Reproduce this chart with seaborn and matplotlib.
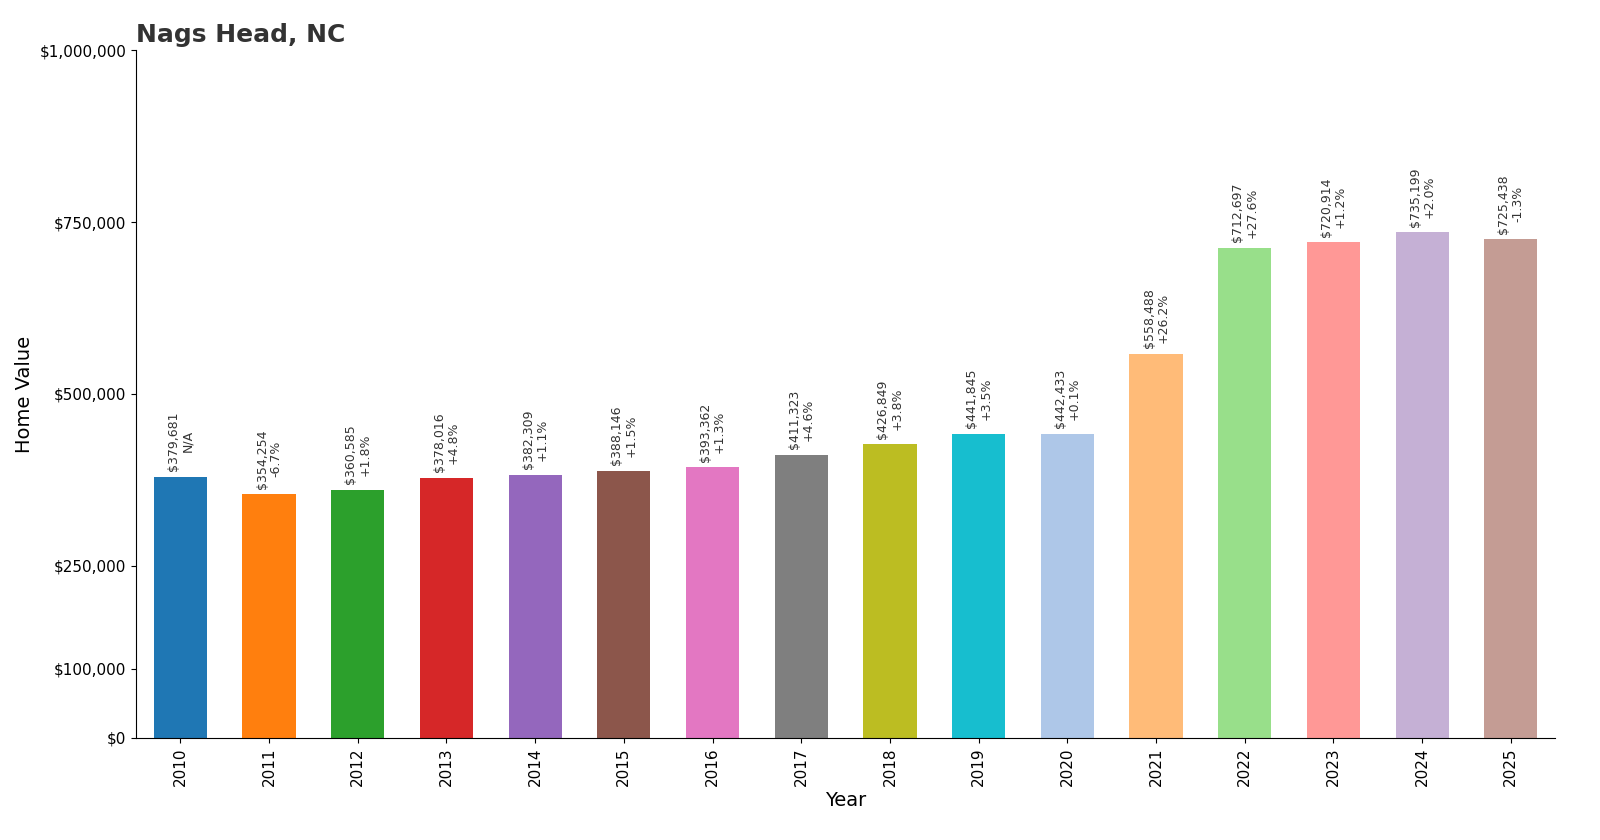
import matplotlib
matplotlib.use("Agg")
import matplotlib.pyplot as plt
import seaborn as sns
import pandas as pd

years = [str(y) for y in range(2010, 2026)]
values = [379681, 354254, 360585, 378016, 382309, 388146, 393362, 411323,
          426849, 441845, 442433, 558488, 712697, 720914, 735199, 725438]
changes = ["N/A", "-6.7%", "+1.8%", "+4.8%", "+1.1%", "+1.5%", "+1.3%", "+4.6%",
           "+3.8%", "+3.5%", "+0.1%", "+26.2%", "+27.6%", "+1.2%", "+2.0%", "-1.3%"]
colors = ["#1f77b4", "#ff7f0e", "#2ca02c", "#d62728", "#9467bd", "#8c564b",
          "#e377c2", "#7f7f7f", "#bcbd22", "#17becf", "#aec7e8", "#ffbb78",
          "#98df8a", "#ff9896", "#c5b0d5", "#c49c94"]
yticks = [0, 100000, 250000, 500000, 750000, 1000000]

df = pd.DataFrame({"Year": years, "Value": values})
fig, ax = plt.subplots(figsize=(16, 8.4), dpi=100)
fig.subplots_adjust(left=0.085, right=0.972, top=0.94, bottom=0.122)
sns.barplot(data=df, x="Year", y="Value", hue="Year", palette=colors,
            legend=False, width=0.6, ax=ax, saturation=1)
for i, (v, c) in enumerate(zip(values, changes)):
    ax.text(i, v + 8000, f"${v:,}\n{c}", rotation=90, ha="center", va="bottom",
            fontsize=9, color="#333333", linespacing=1.1)
ax.set_ylim(0, 1000000)
ax.set_yticks(yticks)
ax.set_yticklabels([f"${t:,}" for t in yticks], fontsize=11)
ax.tick_params(axis="x", rotation=90, labelsize=11)
ax.set_xlabel("Year", fontsize=14)
ax.set_ylabel("Home Value", fontsize=14)
ax.set_title("Nags Head, NC", loc="left", fontsize=18, fontweight="bold", color="#333333")
ax.spines["top"].set_visible(False)
ax.spines["right"].set_visible(False)
fig.savefig("out.png")
